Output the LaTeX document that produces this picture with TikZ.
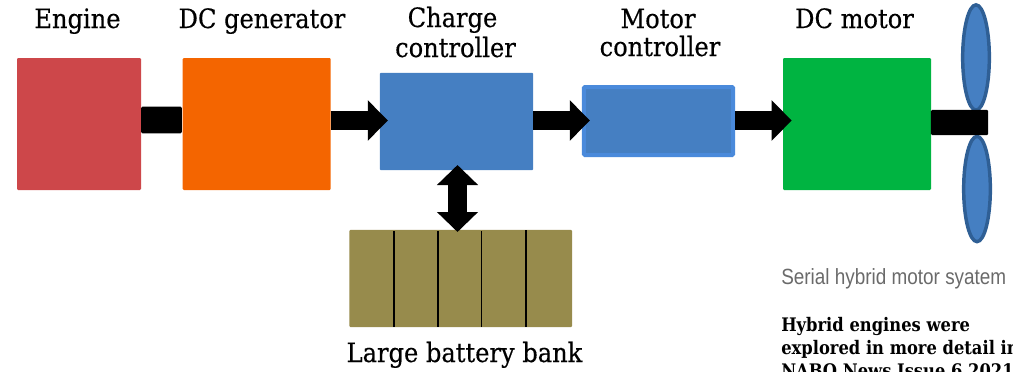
\documentclass[tikz,border=0pt]{standalone}
\usepackage{fontspec}
\setmainfont{DejaVu Serif}
\newfontfamily\labelfont[FakeStretch=0.905,FakeBold=0.4]{DejaVu Serif}
\newfontfamily\notefont[FakeStretch=0.875]{DejaVu Serif Bold}
\newfontfamily\capfont[FakeStretch=0.86]{Liberation Sans}
\usetikzlibrary{arrows.meta,calc,shapes.geometric}
\definecolor{enginered}{HTML}{CD474A}
\definecolor{genorange}{HTML}{F46500}
\definecolor{ctrlblue}{HTML}{457FC2}
\definecolor{ctrledge}{HTML}{4A8ADB}
\definecolor{motorgreen}{HTML}{00B441}
\definecolor{battolive}{HTML}{978B4C}
\definecolor{bladeedge}{HTML}{2F5F95}
\definecolor{capgray}{HTML}{6A6A6A}
\tikzset{
  x=0.75pt,y=-0.75pt,
  block/.style={rectangle,rounded corners=0.8pt,inner sep=0pt,outer sep=0pt,draw=none},
  shaft/.style={rectangle,rounded corners=1pt,fill=black,inner sep=0pt,outer sep=0pt},
  flow/.style={line width=14.5pt,draw=black,-{Triangle[length=15pt,width=29.5pt]}},
  biflow/.style={line width=14.5pt,draw=black,{Triangle[length=15pt,width=30pt]}-{Triangle[length=15pt,width=30pt]}},
  blade/.style={ellipse,draw=bladeedge,fill=ctrlblue,line width=2.6pt,minimum width=20pt,minimum height=79pt,inner sep=0pt},
  label/.style={font=\labelfont\fontsize{20}{22}\selectfont,anchor=base,inner sep=0pt,align=center,text=black},
  divider/.style={line width=1pt,draw=black},
}
\begin{document}
\begin{tikzpicture}
\useasboundingbox (0,0) rectangle (1013,371);
\clip (0,0) rectangle (1013,371);
\coordinate (axis) at (0,120.5);
% blocks
\node[block,fill=enginered,minimum width=93pt,minimum height=99pt] (engine) at (79,124) {};
\node[block,fill=genorange,minimum width=111pt,minimum height=99pt] (gen) at (256.7,124) {};
\node[block,fill=ctrlblue,minimum width=115pt,minimum height=73pt] (charge) at (456.5,121.5) {};
\node[block,fill=ctrlblue,draw=ctrledge,line width=3pt,outer sep=1.5pt,minimum width=112pt,minimum height=51pt] (motorc) at (658.5,121) {};
\node[block,fill=motorgreen,minimum width=111pt,minimum height=99pt] (motor) at (857,124) {};
\node[block,fill=battolive,minimum width=167pt,minimum height=73pt] (batt) at (460.75,278.5) {};
% battery dividers
\coordinate (d1t) at (394,231); \coordinate (d1b) at (394,327);
\coordinate (d2t) at (438,231); \coordinate (d2b) at (438,327);
\coordinate (d3t) at (481.5,231); \coordinate (d3b) at (481.5,327);
\coordinate (d4t) at (526,230); \coordinate (d4b) at (526,327);
\draw[divider] (d1t)--(d1b);
\draw[divider] (d2t)--(d2b);
\draw[divider] (d3t)--(d3b);
\draw[divider] (d4t)--(d4b);
% blades and shafts
\node[blade] (blade1) at (976,57.5) {};
\node[blade] (blade2) at (977,189) {};
\node[shaft,minimum width=30.5pt,minimum height=20pt] (coupling) at (161.5,120) {};
\node[shaft,minimum width=43pt,minimum height=19pt] (propshaft) at (959.5,122.5) {};
% arrows
\draw[flow] (gen.east |- axis) -- ([xshift=6pt]charge.west |- axis);
\draw[flow] (charge.east |- axis) -- ([xshift=6pt]motorc.west |- axis);
\draw[flow] (motorc.east |- axis) -- ([xshift=6.5pt]motor.west |- axis);
\coordinate (bitop) at (457.5,165);
\coordinate (bibot) at (457.5,232);
\draw[biflow] (bitop) -- (bibot);
% labels
\node[label] (lengine) at (77.5,28) {Engine};
\node[label] (lgen) at (262,28) {DC generator};
\node[label] (lcharge1) at (452.5,27) {Charge};
\node[label] (lcharge2) at (455.5,57) {controller};
\node[label] (lmotor1) at (658,28) {Motor};
\node[label] (lmotor2) at (660,56) {controller};
\node[label] (lmotor) at (854.5,28) {DC motor};
\node[label] (lbatt) at (464.5,362) {Large battery bank};
\node[font=\capfont\fontsize{16.5}{18}\selectfont,text=capgray,anchor=base west,inner sep=0pt] (caption) at (781,284) {Serial hybrid motor syatem};
\node[font=\notefont\fontsize{14}{17}\selectfont,anchor=base west,inner sep=0pt] (note1) at (781,331) {Hybrid engines were};
\node[font=\notefont\fontsize{14}{17}\selectfont,anchor=base west,inner sep=0pt] (note2) at (781,354) {explored in more detail in};
\node[font=\notefont\fontsize{14}{17}\selectfont,anchor=base west,inner sep=0pt] (note3) at (781,377) {NABO News Issue 6 2021};
\end{tikzpicture}
\end{document}
